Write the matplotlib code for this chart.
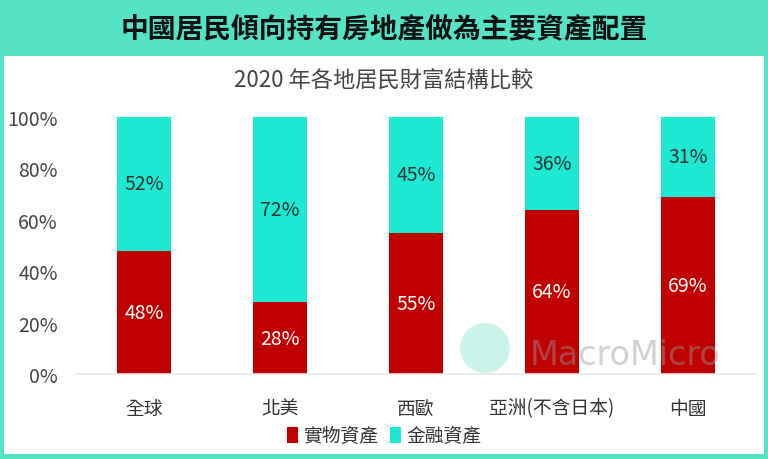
import matplotlib
matplotlib.use("Agg")
import matplotlib.pyplot as plt
from matplotlib.patches import Rectangle, Circle, Patch

plt.rcParams['font.family'] = ['Noto Sans CJK TC', 'DejaVu Sans']

categories = ["全球", "北美", "西歐", "亞洲(不含日本)", "中國"]
physical = [48, 28, 55, 64, 69]
financial = [52, 72, 45, 36, 31]
yticks = [0, 20, 40, 60, 80, 100]
ytick_labels = ["0%", "20%", "40%", "60%", "80%", "100%"]

W, H = 768, 460
fig = plt.figure(figsize=(W/100, H/100), dpi=100)
fig.patch.set_facecolor("#55e3c5")

# background axes in pixel coordinates
bg = fig.add_axes([0, 0, 1, 1], zorder=-10)
bg.set_xlim(0, W)
bg.set_ylim(H, 0)
bg.axis("off")
bg.add_patch(Rectangle((4, 57), W-8, H-57-5, facecolor="white", edgecolor="none"))

fig.text(0.5, 1-29/H, "中國居民傾向持有房地產做為主要資產配置", ha="center", va="center",
         fontsize=20, fontweight="bold", color="#111111")
fig.text(0.5, 1-80/H, "2020 年各地居民財富結構比較", ha="center", va="center",
         fontsize=16, color="#444444")

left, right = 76, 756
bottom, top = 375, 118
ax = fig.add_axes([left/W, 1-bottom/H, (right-left)/W, (bottom-top)/H], zorder=1)
ax.set_facecolor("none")

x = list(range(len(categories)))
red = "#c00000"
teal = "#1de8d3"
ax.bar(x, physical, width=0.4, color=red, zorder=2)
ax.bar(x, financial, width=0.4, bottom=physical, color=teal, zorder=2)

for i in x:
    ax.text(i, physical[i]/2, f"{physical[i]}%", ha="center", va="center",
            color="white", fontsize=14, zorder=3)
    ax.text(i, physical[i] + financial[i]/2, f"{financial[i]}%", ha="center", va="center",
            color="#333333", fontsize=14, zorder=3)

ax.set_xlim(-0.5, len(categories)-0.5)
ax.set_ylim(0, 100)
ax.set_yticks(yticks)
ax.set_yticklabels(ytick_labels, fontsize=14, color="#444444")
ax.set_xticks(x)
ax.set_xticklabels(categories, fontsize=13.5, color="#333333")
ax.tick_params(axis="both", length=0)
ax.tick_params(axis="y", pad=13)
ax.tick_params(axis="x", pad=17)
for s in ["top", "right", "left"]:
    ax.spines[s].set_visible(False)
ax.spines["bottom"].set_color("#e6e6e6")
ax.spines["bottom"].set_linewidth(1.2)

# watermark
bg2 = fig.add_axes([0, 0, 1, 1], zorder=5)
bg2.set_xlim(0, W)
bg2.set_ylim(H, 0)
bg2.axis("off")
bg2.set_aspect("equal")
bg2.add_patch(Circle((485, 349), 25, facecolor="#b9f1e4", edgecolor="none", alpha=0.75))
bg2.text(625, 356, "MacroMicro", ha="center", va="center", fontsize=24,
         color="#999999", alpha=0.45, family="DejaVu Sans")

handles = [Patch(facecolor=red), Patch(facecolor=teal)]
fig.legend(handles, ["實物資產", "金融資產"], loc="center", bbox_to_anchor=(0.5, 1-437/H),
           ncol=2, frameon=False, fontsize=13.5, handlelength=0.6, handleheight=0.9,
           handletextpad=0.3, columnspacing=0.6, labelcolor="#333333")

fig.savefig("out.png", dpi=100, facecolor=fig.get_facecolor())
